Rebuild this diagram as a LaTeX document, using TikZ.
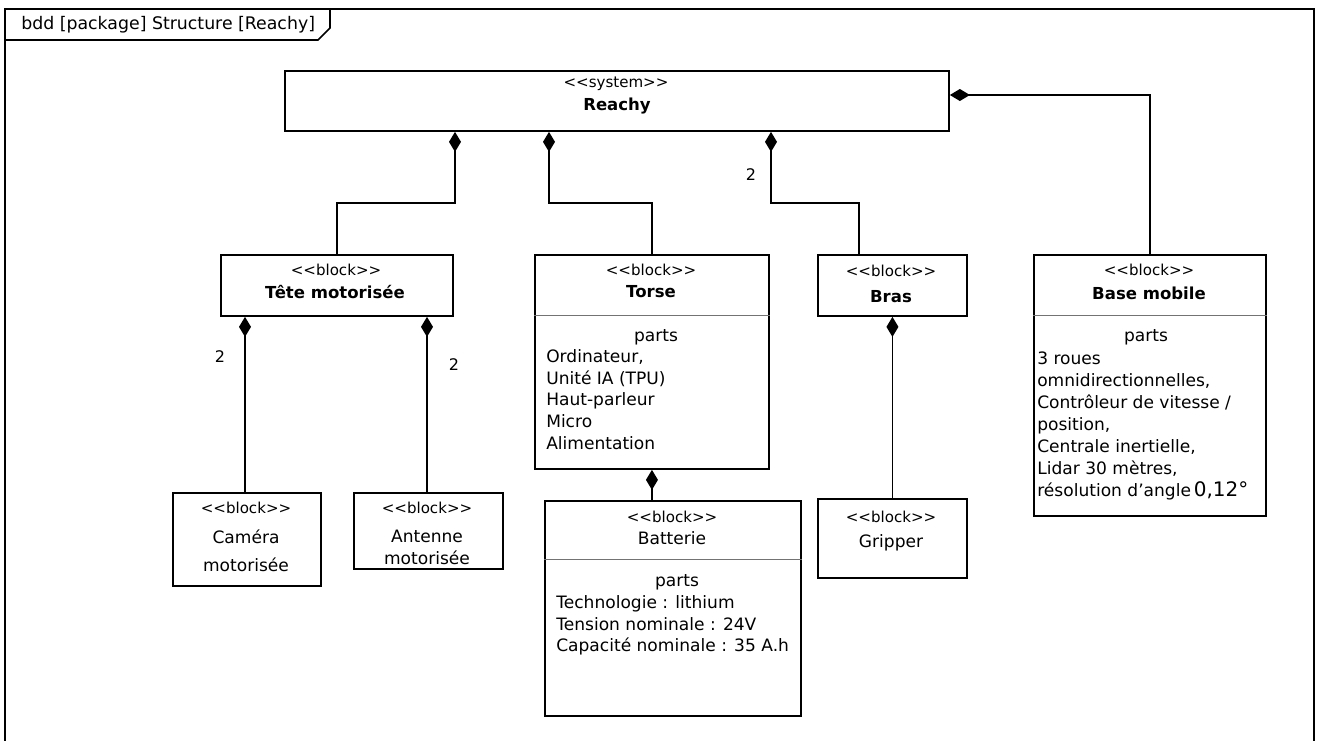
\documentclass[tikz,border=0pt]{standalone}
\usepackage{fontspec}
\setmainfont{DejaVu Sans}
\usetikzlibrary{arrows.meta,calc}
\newcommand\stblock{<{}<block>{}>}
\begin{document}
\begin{tikzpicture}[x=0.75pt,y=-0.75pt,
  blk/.style={draw, line width=1.4pt, fill=white, inner sep=0pt, anchor=north west},
  comp/.style={draw, line width=1.3pt, {Diamond[length=15pt,width=9pt]}-},
  ster/.style={inner sep=0pt, font=\fontsize{11.3}{13}\selectfont},
  bname/.style={inner sep=0pt, font=\bfseries\fontsize{12.4}{14}\selectfont},
  rname/.style={inner sep=0pt, font=\fontsize{12.8}{14}\selectfont},
  lst/.style={inner sep=0pt, anchor=north west, align=left, font=\fontsize{12.8}{16.4}\selectfont},
  sepline/.style={line width=0.6pt, black!55},
  mult/.style={inner sep=0pt, font=\fontsize{12}{13}\selectfont}]
\useasboundingbox (0,0) rectangle (1323,740);

% frame
\draw[line width=1.5pt] (5,742) -- (5,9) -- (1314,9) -- (1314,742);
\draw[line width=1.3pt] (5,40) -- (318,40) -- (330,28) -- (330,9);
\node[inner sep=0pt, anchor=west, font=\fontsize{13}{14}\selectfont] (ftitle) at (21,25) {bdd [package] Structure [Reachy]};

% blocks
\node[blk, minimum width={664*0.75pt}, minimum height={60*0.75pt}] (reachy) at (284,70) {};
\node[ster] (reachy-s) at (616,84) {<{}<system>{}>};
\node[bname] (reachy-n) at (617,106) {Reachy};

\node[blk, minimum width={232*0.75pt}, minimum height={61*0.75pt}] (tete) at (220,254) {};
\node[ster] (tete-s) at (336,270) {\stblock};
\node[bname] (tete-n) at (335,292) {Tête motorisée};

\node[blk, minimum width={234*0.75pt}, minimum height={214*0.75pt}] (torse) at (534,254) {};
\node[ster] (torse-s) at (651,270) {\stblock};
\node[bname] (torse-n) at (651,292) {Torse};
\draw[sepline] (torse.west |- 0,315) -- (torse.east |- 0,315);
\node[rname] (torse-p) at (656,337) {parts};
\node[lst] (torse-l) at (546,349) {Ordinateur,\\Unité IA (TPU)\\Haut-parleur\\Micro\\Alimentation};

\node[blk, minimum width={149*0.75pt}, minimum height={61*0.75pt}] (bras) at (817,254) {};
\node[ster] (bras-s) at (891,271) {\stblock};
\node[bname] (bras-n) at (891,297) {Bras};

\node[blk, minimum width={232*0.75pt}, minimum height={261*0.75pt}] (base) at (1033,254) {};
\node[ster] (base-s) at (1149,270) {\stblock};
\node[bname] (base-n) at (1149,293) {Base mobile};
\draw[sepline] (base.west |- 0,315) -- (base.east |- 0,315);
\node[rname] (base-p) at (1146,337) {parts};
\node[lst] (base-l) at (1037,352) {3 roues\\omnidirectionnelles,\\Contrôleur de vitesse /\\position,\\Centrale inertielle,\\Lidar 30 mètres,\\résolution d'angle\,{\fontsize{15}{16}\selectfont 0,12°}};

\node[blk, minimum width={148*0.75pt}, minimum height={93*0.75pt}] (camera) at (172,492) {};
\node[ster] (camera-s) at (246,508) {\stblock};
\node[rname] (camera-n1) at (246,537) {Caméra};
\node[rname] (camera-n2) at (246,565) {motorisée};

\node[blk, minimum width={149*0.75pt}, minimum height={76*0.75pt}] (antenne) at (353,492) {};
\node[ster] (antenne-s) at (427,508) {\stblock};
\node[rname] (antenne-n1) at (427,536) {Antenne};
\node[rname] (antenne-n2) at (427,558) {motorisée};

\node[blk, minimum width={256*0.75pt}, minimum height={215*0.75pt}] (batterie) at (544,500) {};
\node[ster] (batterie-s) at (672,517) {\stblock};
\node[rname] (batterie-n) at (672,538) {Batterie};
\draw[sepline] (batterie.west |- 0,559) -- (batterie.east |- 0,559);
\node[rname] (batterie-p) at (677,582) {parts};
\node[lst] (batterie-l) at (556,595) {Technologie : lithium\\Tension nominale : 24V\\Capacité nominale : 35 A.h};

\node[blk, minimum width={149*0.75pt}, minimum height={79*0.75pt}] (gripper) at (817,498) {};
\node[ster] (gripper-s) at (891,517) {\stblock};
\node[rname] (gripper-n) at (891,543) {Gripper};

% connectors from Reachy
\coordinate (rt) at ($(reachy.south west)+(171,0)$);
\coordinate (ro) at ($(reachy.south west)+(265,0)$);
\coordinate (rb) at ($(reachy.south west)+(487,0)$);
\coordinate (rm) at ($(reachy.north east)+(0,25)$);
\coordinate (bt) at ($(bras.north west)+(42,0)$);
\draw[comp] (rt) |- ($(tete.north)+(0,-51)$) -- (tete.north);
\draw[comp] (ro) |- ($(torse.north)+(0,-51)$) -- (torse.north);
\draw[comp] (rb) |- ($(bt)+(0,-51)$) -- (bt);
\draw[comp] (rm) -| (base.north);
\node[mult] (m-bras) at (751,175) {2};

% connectors from Tête
\coordinate (tc) at ($(tete.south west)+(25,0)$);
\coordinate (ta) at ($(tete.south west)+(207,0)$);
\draw[comp] (tc) -- (tc |- camera.north);
\draw[comp] (ta) -- (ta |- antenne.north);
\node[mult] (m-cam) at (220,357) {2};
\node[mult] (m-ant) at (454,365) {2};

% Torse -> Batterie, Bras -> Gripper
\draw[comp] (torse.south) -- (torse.south |- batterie.north);
\draw[comp] (bras.south) -- (gripper.north);
\end{tikzpicture}
\end{document}
